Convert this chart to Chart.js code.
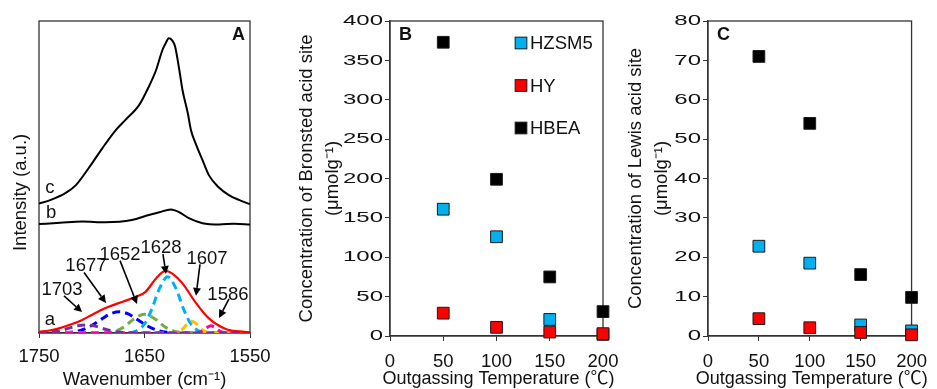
<!DOCTYPE html>
<html><head><meta charset="utf-8">
<script src="https://cdn.jsdelivr.net/npm/chart.js@4.4.1/dist/chart.umd.min.js"></script>
<style>
html,body{margin:0;padding:0;background:#fff;width:937px;height:389px;overflow:hidden}
canvas{position:absolute;left:0;top:0}
</style></head><body>
<canvas id="cA" width="937" height="389" style="width:937px;height:389px"></canvas>
<canvas id="cB" width="937" height="389" style="width:937px;height:389px"></canvas>
<canvas id="cC" width="937" height="389" style="width:937px;height:389px"></canvas>
<script>
// ---------- Panel A: IR spectra (wavenumber, intensity a.u.) ----------
const specC_wn  = [1750,1740,1725,1715,1703,1690,1677,1668,1655,1646,1639,1633,1630,1627,1624,1621,1617,1614,1609,1606,1601,1595,1589,1580,1570,1560,1550];
const specC_int = [41.5,42.5,44.8,47.4,52.8,59.2,65.1,68.3,73.1,78.9,84.3,90.7,92.8,94.5,93.9,91.8,84.3,77.9,70.5,65.1,60.3,55.4,50.6,46.8,44.2,42.6,41.3];
const specB_wn  = [1750,1730,1709,1687,1662,1646,1636,1625,1617,1608,1595,1579,1565,1550];
const specB_int = [34.9,35.3,35.7,35.5,36.2,37.8,38.7,39.6,38.7,36.8,35.2,34.8,35.0,34.8];
const specA_wn  = [1750,1740,1731,1720,1709,1700,1690,1684,1670,1658,1649,1639,1630,1624,1614,1602,1589,1573,1560,1550];
const specA_int = [0.4,0.8,1.5,2.7,4.2,5.8,7.5,8.4,10.1,11.6,13.2,17.5,19.9,19.1,15.9,10.0,4.7,1.3,0.5,0.2];
// fitted component bands
const band1703_wn  = [1750,1735,1725,1715,1706,1697,1687,1677,1665,1650,1550];
const band1703_int = [0.05,0.4,1.2,2.2,2.6,2.2,1.2,0.4,0.06,0,0];
const band1677_wn  = [1750,1735,1720,1710,1700,1690,1682,1674,1666,1658,1648,1638,1628,1615,1550];
const band1677_int = [0,0.02,0.26,0.9,2.4,4.6,6.2,6.8,6.2,4.6,2.4,0.9,0.26,0.03,0];
const band1652_wn  = [1750,1700,1690,1680,1670,1660,1650,1640,1630,1620,1610,1600,1550];
const band1652_int = [0,0,0.05,0.4,1.8,4.5,6.0,4.5,1.8,0.4,0.05,0,0];
const band1628_wn  = [1750,1670,1660,1650,1643,1636,1628,1620,1613,1606,1596,1585,1550];
const band1628_int = [0,0,0.37,2.9,7.7,14.1,18.0,14.1,7.7,2.9,0.37,0.02,0];
const band1607_wn  = [1750,1630,1620,1615,1610,1605,1600,1595,1590,1585,1550];
const band1607_int = [0,0,0.17,0.95,2.7,3.8,2.7,0.95,0.17,0.02,0];
const band1586_wn  = [1750,1605,1600,1595,1591,1587,1583,1579,1574,1565,1550];
const band1586_int = [0,0,0.08,0.64,1.7,2.3,1.7,0.64,0.08,0,0];
const peakLabels = ['1703','1677','1652','1628','1607','1586'];
const curveLabels = ['a','b','c'];

// ---------- Panels B & C: acid site concentrations ----------
const seriesNames = ['HZSM5','HY','HBEA'];
const temps = [50,100,150,200];
const bronstedHZSM5 = [161,126,21,2];
const bronstedHY    = [29,11,5,3];
const bronstedHBEA  = [373,199,75,31];
const lewisHZSM5 = [22.8,18.5,2.8,1.3];
const lewisHY    = [4.4,2.1,0.9,0.3];
const lewisHBEA  = [71,54,15.6,9.8];
const yTicksB = [0,400,50];
const yTicksC = [0,80,10];
const xTitleBC = 'Outgassing Temperature (℃)';

// ---------- styling / layout ----------
const FONT = '"Liberation Sans", Arial, "Noto Sans CJK JP", sans-serif';
Chart.defaults.font.family = FONT;
Chart.defaults.color = '#111';
const TXT = '#111';
const AXIS = '#333';

const pts = (xs, ys) => xs.map((x,i)=>({x:x, y:ys[i]}));

const boxPlugin = {
  id:'box',
  beforeDatasetsDraw(chart){
    const a = chart.chartArea, ctx = chart.ctx;
    ctx.save(); ctx.strokeStyle = AXIS; ctx.lineWidth = 1.3;
    ctx.strokeRect(a.left, a.top, a.right-a.left, a.bottom-a.top);
    ctx.restore();
  }
};
const panelLetter = {
  id:'panelLetter',
  afterDraw(chart, args, o){
    const a = chart.chartArea, ctx = chart.ctx;
    ctx.save(); ctx.fillStyle = TXT; ctx.font = 'bold 18px ' + FONT;
    ctx.textBaseline = 'middle'; ctx.textAlign = o.align;
    ctx.fillText(o.text, o.align === 'right' ? a.right + o.dx : a.left + o.dx, a.top + o.dy);
    ctx.restore();
  }
};
const stretchedYTicks = {
  id:'stretchedYTicks',
  afterDraw(chart){
    const s = chart.scales.y, ctx = chart.ctx;
    ctx.save(); ctx.fillStyle = TXT; ctx.font = '15px ' + FONT;
    ctx.textAlign = 'right'; ctx.textBaseline = 'middle';
    s.ticks.forEach(t=>{
      const y = s.getPixelForValue(t.value);
      ctx.save(); ctx.translate(s.right - 7, y); ctx.scale(1.6, 1);
      ctx.fillText(t.label, 0, 0); ctx.restore();
    });
    ctx.restore();
  }
};
const wideXTitle = {
  id:'wideXTitle',
  afterDraw(chart){
    const a = chart.chartArea, ctx = chart.ctx;
    ctx.save(); ctx.fillStyle = TXT; ctx.font = '18px "Liberation Sans", Arial, "Noto Sans CJK JP", sans-serif';
    ctx.textAlign = 'center'; ctx.textBaseline = 'middle';
    ctx.fillText(xTitleBC, (a.left + a.right)/2 + 2, 379);
    ctx.restore();
  }
};
const insideLegend = {
  id:'insideLegend',
  afterDraw(chart, args, o){
    if (!o.show) return;
    const a = chart.chartArea, ctx = chart.ctx;
    ctx.save(); ctx.font = '18.5px ' + FONT; ctx.textBaseline = 'middle'; ctx.textAlign = 'left';
    chart.data.datasets.forEach((ds, i)=>{
      const cx = a.left + o.dx, cy = a.top + o.dy + i*o.gap, h = 5.85;
      ctx.fillStyle = ds.backgroundColor; ctx.fillRect(cx-h, cy-h, 2*h, 2*h);
      ctx.strokeStyle = '#1a1a1a'; ctx.lineWidth = 1; ctx.strokeRect(cx-h, cy-h, 2*h, 2*h);
      ctx.fillStyle = TXT; ctx.fillText(ds.label, cx + 9, cy + 1);
    });
    ctx.restore();
  }
};
// annotation anchors for panel A, in data units (wavenumber, intensity)
const annotA = {
  textAt:    [[1728.2,13.8],[1705.5,21.4],[1673.2,25.0],[1634.4,27.4],[1590.8,23.7],[1570.9,12.2]],
  arrowFrom: [[1726.3,11.9],[1707.3,19.4],[1673.2,23.2],[1632.5,25.3],[1597.4,22.0],[1569.9,10.9]],
  arrowTo:   [[1709.2,6.7],[1686.5,9.6],[1657.1,9.3],[1629.6,18.9],[1601.2,11.9],[1579.4,4.8]],
  curveAt:   [[1739.6,4.2],[1738.6,38.5],[1739.6,46.5]]
};
const annotPlugin = {
  id:'annotA',
  afterDraw(chart){
    const sx = chart.scales.x, sy = chart.scales.y, ctx = chart.ctx;
    const P = p => [sx.getPixelForValue(p[0]), sy.getPixelForValue(p[1])];
    ctx.save(); ctx.fillStyle = TXT; ctx.strokeStyle = '#000';
    ctx.font = '18.5px ' + FONT; ctx.textAlign = 'center'; ctx.textBaseline = 'middle';
    peakLabels.forEach((t,i)=>{
      const [tx,ty] = P(annotA.textAt[i]); ctx.fillText(t, tx, ty);
      const [x1,y1] = P(annotA.arrowFrom[i]), [x2,y2] = P(annotA.arrowTo[i]);
      const ang = Math.atan2(y2-y1, x2-x1), hl = 8, hw = 4;
      const bx = x2 - hl*Math.cos(ang), by = y2 - hl*Math.sin(ang);
      ctx.lineWidth = 1.6; ctx.beginPath(); ctx.moveTo(x1,y1); ctx.lineTo(bx,by); ctx.stroke();
      ctx.beginPath(); ctx.moveTo(x2,y2);
      ctx.lineTo(bx + hw*Math.sin(ang), by - hw*Math.cos(ang));
      ctx.lineTo(bx - hw*Math.sin(ang), by + hw*Math.cos(ang));
      ctx.closePath(); ctx.fillStyle = '#000'; ctx.fill(); ctx.fillStyle = TXT;
    });
    curveLabels.forEach((t,i)=>{ const [tx,ty] = P(annotA.curveAt[i]); ctx.fillText(t, tx, ty); });
    ctx.restore();
  }
};

const lineDs = (label, wn, it, color, width, dash, order) => ({
  label, data: pts(wn, it), showLine:true, borderColor:color, backgroundColor:color,
  borderWidth:width, borderDash:dash, pointRadius:0, cubicInterpolationMode:'monotone',
  fill:false, order
});

const commonOpts = (pad) => ({
  responsive:false, animation:false, devicePixelRatio:1, events:[],
  layout:{padding:pad},
  plugins:{legend:{display:false}, tooltip:{enabled:false}}
});
const plainNum = v => String(v);

// ---------- Chart A ----------
new Chart(document.getElementById('cA'), {
  type:'scatter',
  data:{datasets:[
    lineDs('c', specC_wn, specC_int, '#000', 2, [], 0),
    lineDs('b', specB_wn, specB_int, '#000', 2, [], 0),
    lineDs('a', specA_wn, specA_int, '#FF0000', 2.2, [], 1),
    lineDs('1703', band1703_wn, band1703_int, '#7030A0', 3, [8,5], 2),
    lineDs('1586', band1586_wn, band1586_int, '#FF0099', 3, [8,5], 3),
    lineDs('1607', band1607_wn, band1607_int, '#FFC000', 3, [8,5], 4),
    lineDs('1628', band1628_wn, band1628_int, '#00B0F0', 3, [8,5], 5),
    lineDs('1652', band1652_wn, band1652_int, '#70AD47', 3, [8,5], 6),
    lineDs('1677', band1677_wn, band1677_int, '#0000FF', 3, [8,5], 7)
  ]},
  options:Object.assign(commonOpts({left:0,right:687,top:21,bottom:0}), {
    scales:{
      x:{type:'linear', reverse:true, min:1550, max:1750,
         afterFit(s){ s.height = 56; },
         ticks:{stepSize:100, padding:8, color:TXT, font:{size:18.5}, maxRotation:0, callback:plainNum},
         grid:{drawOnChartArea:false, drawTicks:true, tickLength:5, color:AXIS},
         border:{display:true, color:AXIS, width:1.3},
         title:{display:true, text:'Wavenumber (cm⁻¹)', color:TXT, font:{size:18.5, lineHeight:1}, padding:{top:0,bottom:0}}},
      y:{type:'linear', min:0, max:100,
         afterFit(s){ s.width = 39; },
         ticks:{display:false}, grid:{display:false}, border:{display:false},
         title:{display:true, text:'Intensity (a.u.)      ', color:TXT, font:{size:18.5, lineHeight:1.2}, padding:{top:10,bottom:0}}}
    }
  }),
  plugins:[boxPlugin, annotPlugin, {id:'pl', afterDraw(c){ panelLetter.afterDraw(c, null, {text:'A', align:'right', dx:-5, dy:14}); }}]
});

// ---------- Charts B & C ----------
const scatterDs = (name, vals, color, order) => ({
  label:name, data: pts(temps, vals), pointStyle:'rect', pointRadius:8.3, pointHoverRadius:8.3,
  backgroundColor:color, borderColor:'#1a1a1a', borderWidth:1, showLine:false, clip:false, order
});
function makeScatter(id, vals, yt, yTitle, pad, yW, letter, legend){
  return new Chart(document.getElementById(id), {
    type:'scatter',
    data:{datasets:[
      scatterDs(seriesNames[0], vals[0], '#00B0F0', 1),
      scatterDs(seriesNames[1], vals[1], '#FF0000', 0),
      scatterDs(seriesNames[2], vals[2], '#000000', 2)
    ]},
    options:Object.assign(commonOpts(pad), {
      scales:{
        x:{type:'linear', min:0, max:200,
           afterFit(s){ s.height = 53; },
           ticks:{stepSize:50, padding:10, color:TXT, font:{size:18.5}, maxRotation:0, callback:plainNum},
           grid:{drawOnChartArea:false, drawTicks:true, tickLength:5, color:AXIS},
           border:{display:true, color:AXIS, width:1.3},
           title:{display:false}},
        y:{type:'linear', min:yt[0], max:yt[1],
           afterFit(s){ s.width = yW; },
           ticks:{stepSize:yt[2], color:'rgba(0,0,0,0)', font:{size:15}, callback:plainNum},
           grid:{drawOnChartArea:false, drawTicks:true, tickLength:5, color:AXIS},
           border:{display:true, color:AXIS, width:1.3},
           title:{display:true, text:yTitle, color:TXT, font:{size:18.5, lineHeight:1.4}, padding:{top:0,bottom:0}}}
      },
      plugins:{legend:{display:false}, tooltip:{enabled:false}, insideLegend:{show:legend, dx:131, dy:22, gap:42.5}}
    }),
    plugins:[boxPlugin, stretchedYTicks, wideXTitle, insideLegend, {id:'pl', afterDraw(c){ panelLetter.afterDraw(c, null, {text:letter, align:'left', dx:9, dy:14}); }}]
  });
}
makeScatter('cB', [bronstedHZSM5, bronstedHY, bronstedHBEA], yTicksB,
  ['Concentration of Bronsted acid site','(μmolg⁻¹)'], {left:294,right:334,top:21,bottom:0}, 96, 'B', true);
makeScatter('cC', [lewisHZSM5, lewisHY, lewisHBEA], yTicksC,
  ['Concentration of Lewis acid site','(μmolg⁻¹)'], {left:623,right:15,top:21,bottom:0}, 85, 'C', false);
</script>
</body></html>
